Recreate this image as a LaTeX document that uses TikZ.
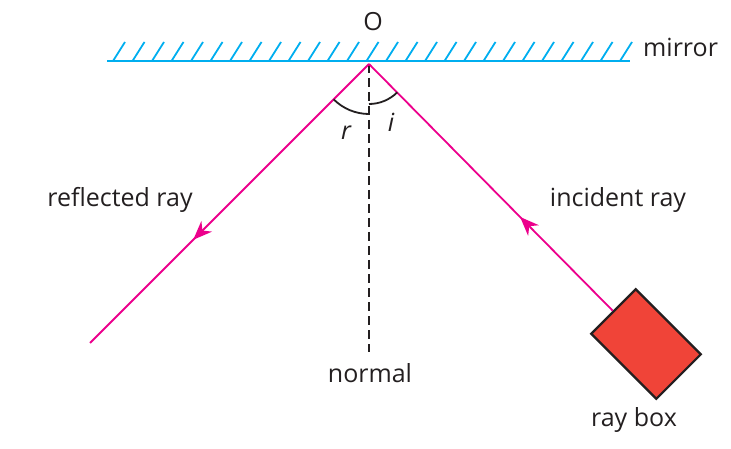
\documentclass[tikz,border=0pt]{standalone}
\usepackage{fontspec}
\setmainfont{Open Sans}
\usetikzlibrary{arrows.meta,decorations.markings,calc}
\definecolor{mirrorblue}{RGB}{0,174,239}
\definecolor{raypink}{RGB}{236,0,140}
\definecolor{boxred}{RGB}{240,68,56}
\definecolor{inkblack}{RGB}{35,31,32}
\tikzset{
  lbl/.style={font=\fontsize{25}{28}\selectfont, text=inkblack, inner sep=0pt, anchor=base},
  ilbl/.style={lbl, font=\fontsize{25}{28}\selectfont\itshape},
  ray/.style={draw=raypink, line width=1.8pt},
  midarrow/.style={postaction={decorate, decoration={markings,
     mark=at position #1 with {\arrow{Stealth[length=19pt,width=15pt,inset=6pt]}}}}},
  anglearc/.style={draw=inkblack, line width=1.8pt},
}
\begin{document}
\begin{tikzpicture}[x=1pt,y=-1pt]
\useasboundingbox (0,0) rectangle (731,449);
% mirror
\draw[mirrorblue, line width=2pt] (107,61) -- (630,61);
\foreach \i in {0,...,26}{
  \draw[mirrorblue, line width=1.8pt] ({113+19.5*\i},61) -- ({125+19.5*\i},42);
}
\coordinate (O) at (369,64);
\coordinate (L) at (90,343);
\coordinate (N) at (369,352);
% ray box
\node[draw=inkblack, fill=boxred, line width=2.2pt, rectangle,
      minimum width=92pt, minimum height=63pt, inner sep=0pt,
      rotate=-45] (box) at (646,344) {};
% normal
\draw[inkblack, line width=1.6pt, dash pattern=on 9pt off 5pt] (O) -- (N);
% rays
\path[ray, midarrow=0.38] (box.west) -- (O);
\path[ray, midarrow=0.63] (O) -- (L);
% angle arcs
\draw[anglearc] ($(O)+(135:50)$) arc[start angle=135, end angle=90, radius=50];
\draw[anglearc] ($(O)+(90:40)$) arc[start angle=90, end angle=45, radius=40];
% labels
\node[lbl] (lO) at (373,31) {O};
\node[lbl, anchor=base west] (lmirror) at (643,57) {mirror};
\node[ilbl] (lr) at (346,140) {r};
\node[ilbl] (li) at (391,132) {i};
\node[lbl] (lrefl) at (120,207) {reflected ray};
\node[lbl] (linc) at (618,207) {incident ray};
\node[lbl] (lnormal) at (370,382) {normal};
\node[lbl] (lbox) at (634,426) {ray box};
\end{tikzpicture}
\end{document}
